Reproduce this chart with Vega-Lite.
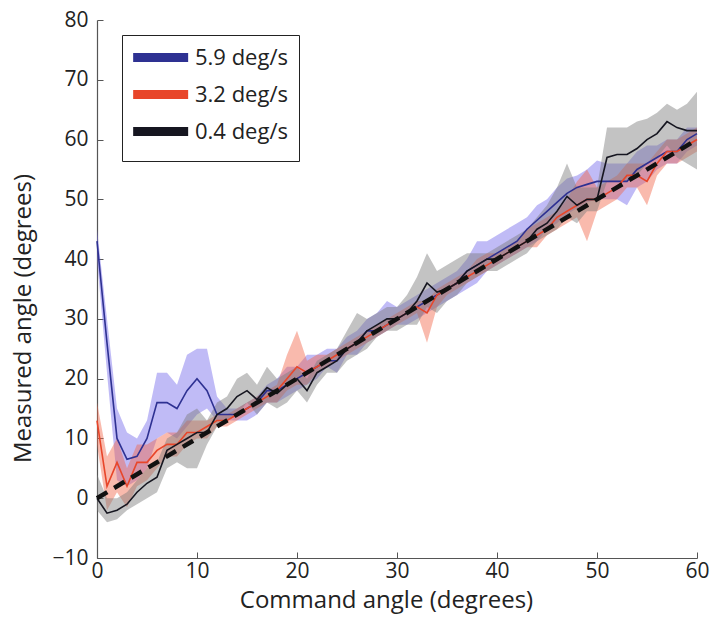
{
  "$schema": "https://vega.github.io/schema/vega-lite/v6.json",
  "width": 600,
  "height": 538,
  "autosize": {"type": "none"},
  "padding": {"left": 97, "top": 20, "right": 13, "bottom": 63},
  "config": {
    "font": "Open Sans",
    "view": {"stroke": null},
    "axis": {
      "grid": false,
      "domainColor": "#555555",
      "domainWidth": 1.2,
      "tickColor": "#555555",
      "tickSize": -6,
      "labelFlush": false,
      "labelFontSize": 21,
      "labelColor": "#222222",
      "titleFontSize": 24,
      "titleFontWeight": "normal",
      "titleColor": "#222222"
    }
  },
  "datasets": {
    "runs": [
      {"series": "5.9 deg/s", "x": 0, "m": 43, "lo": 40, "hi": 45},
      {"series": "5.9 deg/s", "x": 1, "m": 26, "lo": 21, "hi": 30},
      {"series": "5.9 deg/s", "x": 2, "m": 10, "lo": 3, "hi": 15},
      {"series": "5.9 deg/s", "x": 3, "m": 6.5, "lo": 2, "hi": 11},
      {"series": "5.9 deg/s", "x": 4, "m": 7, "lo": 3, "hi": 10},
      {"series": "5.9 deg/s", "x": 5, "m": 10, "lo": 5, "hi": 13},
      {"series": "5.9 deg/s", "x": 6, "m": 16, "lo": 10, "hi": 21},
      {"series": "5.9 deg/s", "x": 7, "m": 16, "lo": 11, "hi": 21},
      {"series": "5.9 deg/s", "x": 8, "m": 15, "lo": 10, "hi": 19},
      {"series": "5.9 deg/s", "x": 9, "m": 18, "lo": 12, "hi": 24},
      {"series": "5.9 deg/s", "x": 10, "m": 20, "lo": 14, "hi": 25},
      {"series": "5.9 deg/s", "x": 11, "m": 18, "lo": 15, "hi": 25},
      {"series": "5.9 deg/s", "x": 12, "m": 14, "lo": 13, "hi": 17},
      {"series": "5.9 deg/s", "x": 13, "m": 14, "lo": 13, "hi": 15},
      {"series": "5.9 deg/s", "x": 14, "m": 14, "lo": 13, "hi": 15},
      {"series": "5.9 deg/s", "x": 15, "m": 15, "lo": 13, "hi": 16},
      {"series": "5.9 deg/s", "x": 16, "m": 16, "lo": 14, "hi": 17},
      {"series": "5.9 deg/s", "x": 17, "m": 18, "lo": 16, "hi": 19},
      {"series": "5.9 deg/s", "x": 18, "m": 18, "lo": 16, "hi": 20},
      {"series": "5.9 deg/s", "x": 19, "m": 19, "lo": 17, "hi": 22},
      {"series": "5.9 deg/s", "x": 20, "m": 20, "lo": 18, "hi": 22},
      {"series": "5.9 deg/s", "x": 21, "m": 21, "lo": 19, "hi": 24},
      {"series": "5.9 deg/s", "x": 22, "m": 22, "lo": 20, "hi": 24},
      {"series": "5.9 deg/s", "x": 23, "m": 23, "lo": 22, "hi": 25},
      {"series": "5.9 deg/s", "x": 24, "m": 23, "lo": 21, "hi": 25},
      {"series": "5.9 deg/s", "x": 25, "m": 25, "lo": 24, "hi": 27},
      {"series": "5.9 deg/s", "x": 26, "m": 26, "lo": 24, "hi": 28},
      {"series": "5.9 deg/s", "x": 27, "m": 28, "lo": 26, "hi": 30},
      {"series": "5.9 deg/s", "x": 28, "m": 28, "lo": 27, "hi": 31},
      {"series": "5.9 deg/s", "x": 29, "m": 29, "lo": 28, "hi": 33},
      {"series": "5.9 deg/s", "x": 30, "m": 30, "lo": 29, "hi": 32},
      {"series": "5.9 deg/s", "x": 31, "m": 31, "lo": 29, "hi": 33},
      {"series": "5.9 deg/s", "x": 32, "m": 32, "lo": 30, "hi": 34},
      {"series": "5.9 deg/s", "x": 33, "m": 33, "lo": 31, "hi": 35},
      {"series": "5.9 deg/s", "x": 34, "m": 34, "lo": 32, "hi": 36},
      {"series": "5.9 deg/s", "x": 35, "m": 35, "lo": 33, "hi": 37},
      {"series": "5.9 deg/s", "x": 36, "m": 36, "lo": 34, "hi": 38},
      {"series": "5.9 deg/s", "x": 37, "m": 38, "lo": 35, "hi": 40},
      {"series": "5.9 deg/s", "x": 38, "m": 39, "lo": 36, "hi": 43},
      {"series": "5.9 deg/s", "x": 39, "m": 40, "lo": 38, "hi": 43},
      {"series": "5.9 deg/s", "x": 40, "m": 41, "lo": 39, "hi": 44},
      {"series": "5.9 deg/s", "x": 41, "m": 42, "lo": 40, "hi": 45},
      {"series": "5.9 deg/s", "x": 42, "m": 43, "lo": 41, "hi": 46},
      {"series": "5.9 deg/s", "x": 43, "m": 45, "lo": 42, "hi": 47},
      {"series": "5.9 deg/s", "x": 44, "m": 46.5, "lo": 43, "hi": 49},
      {"series": "5.9 deg/s", "x": 45, "m": 48, "lo": 45, "hi": 50},
      {"series": "5.9 deg/s", "x": 46, "m": 49.5, "lo": 46, "hi": 52},
      {"series": "5.9 deg/s", "x": 47, "m": 51, "lo": 47.5, "hi": 53.5},
      {"series": "5.9 deg/s", "x": 48, "m": 52, "lo": 48.5, "hi": 54},
      {"series": "5.9 deg/s", "x": 49, "m": 52.5, "lo": 49.5, "hi": 55},
      {"series": "5.9 deg/s", "x": 50, "m": 53, "lo": 50, "hi": 56.5},
      {"series": "5.9 deg/s", "x": 51, "m": 53, "lo": 50, "hi": 56},
      {"series": "5.9 deg/s", "x": 52, "m": 53, "lo": 50, "hi": 56},
      {"series": "5.9 deg/s", "x": 53, "m": 53, "lo": 49, "hi": 56},
      {"series": "5.9 deg/s", "x": 54, "m": 55, "lo": 52, "hi": 58},
      {"series": "5.9 deg/s", "x": 55, "m": 56, "lo": 53, "hi": 59},
      {"series": "5.9 deg/s", "x": 56, "m": 57, "lo": 55, "hi": 59},
      {"series": "5.9 deg/s", "x": 57, "m": 58, "lo": 56, "hi": 60},
      {"series": "5.9 deg/s", "x": 58, "m": 58, "lo": 56, "hi": 60},
      {"series": "5.9 deg/s", "x": 59, "m": 60, "lo": 58, "hi": 62},
      {"series": "5.9 deg/s", "x": 60, "m": 61, "lo": 59, "hi": 62},

      {"series": "3.2 deg/s", "x": 0, "m": 13, "lo": 9, "hi": 16},
      {"series": "3.2 deg/s", "x": 1, "m": 2, "lo": -2, "hi": 7},
      {"series": "3.2 deg/s", "x": 2, "m": 6, "lo": 1, "hi": 10},
      {"series": "3.2 deg/s", "x": 3, "m": 2, "lo": -1.5, "hi": 5},
      {"series": "3.2 deg/s", "x": 4, "m": 6, "lo": 2, "hi": 9},
      {"series": "3.2 deg/s", "x": 5, "m": 6, "lo": 3, "hi": 9},
      {"series": "3.2 deg/s", "x": 6, "m": 8, "lo": 5, "hi": 10},
      {"series": "3.2 deg/s", "x": 7, "m": 9, "lo": 7, "hi": 11},
      {"series": "3.2 deg/s", "x": 8, "m": 9, "lo": 7, "hi": 11},
      {"series": "3.2 deg/s", "x": 9, "m": 11, "lo": 9, "hi": 13},
      {"series": "3.2 deg/s", "x": 10, "m": 11, "lo": 10, "hi": 13},
      {"series": "3.2 deg/s", "x": 11, "m": 12, "lo": 10, "hi": 13},
      {"series": "3.2 deg/s", "x": 12, "m": 13, "lo": 12, "hi": 14},
      {"series": "3.2 deg/s", "x": 13, "m": 13, "lo": 12, "hi": 14},
      {"series": "3.2 deg/s", "x": 14, "m": 14, "lo": 13, "hi": 15},
      {"series": "3.2 deg/s", "x": 15, "m": 15, "lo": 14, "hi": 16},
      {"series": "3.2 deg/s", "x": 16, "m": 16, "lo": 15, "hi": 17},
      {"series": "3.2 deg/s", "x": 17, "m": 17, "lo": 16, "hi": 18},
      {"series": "3.2 deg/s", "x": 18, "m": 18, "lo": 16, "hi": 19},
      {"series": "3.2 deg/s", "x": 19, "m": 20, "lo": 18, "hi": 24},
      {"series": "3.2 deg/s", "x": 20, "m": 22, "lo": 19, "hi": 28},
      {"series": "3.2 deg/s", "x": 21, "m": 21, "lo": 19, "hi": 23},
      {"series": "3.2 deg/s", "x": 22, "m": 22, "lo": 21, "hi": 24},
      {"series": "3.2 deg/s", "x": 23, "m": 23, "lo": 22, "hi": 24},
      {"series": "3.2 deg/s", "x": 24, "m": 24, "lo": 23, "hi": 25},
      {"series": "3.2 deg/s", "x": 25, "m": 25, "lo": 24, "hi": 26},
      {"series": "3.2 deg/s", "x": 26, "m": 26, "lo": 25, "hi": 27},
      {"series": "3.2 deg/s", "x": 27, "m": 27, "lo": 26, "hi": 28},
      {"series": "3.2 deg/s", "x": 28, "m": 28, "lo": 27, "hi": 29},
      {"series": "3.2 deg/s", "x": 29, "m": 29, "lo": 28, "hi": 30},
      {"series": "3.2 deg/s", "x": 30, "m": 30, "lo": 29, "hi": 31},
      {"series": "3.2 deg/s", "x": 31, "m": 31, "lo": 30, "hi": 32},
      {"series": "3.2 deg/s", "x": 32, "m": 32, "lo": 31, "hi": 33},
      {"series": "3.2 deg/s", "x": 33, "m": 31, "lo": 26, "hi": 33},
      {"series": "3.2 deg/s", "x": 34, "m": 34, "lo": 32, "hi": 35},
      {"series": "3.2 deg/s", "x": 35, "m": 35, "lo": 34, "hi": 36},
      {"series": "3.2 deg/s", "x": 36, "m": 36, "lo": 35, "hi": 37},
      {"series": "3.2 deg/s", "x": 37, "m": 37, "lo": 36, "hi": 38},
      {"series": "3.2 deg/s", "x": 38, "m": 38, "lo": 37, "hi": 40},
      {"series": "3.2 deg/s", "x": 39, "m": 39, "lo": 38, "hi": 41},
      {"series": "3.2 deg/s", "x": 40, "m": 40, "lo": 39, "hi": 41},
      {"series": "3.2 deg/s", "x": 41, "m": 41, "lo": 40, "hi": 42},
      {"series": "3.2 deg/s", "x": 42, "m": 42, "lo": 41, "hi": 43},
      {"series": "3.2 deg/s", "x": 43, "m": 43, "lo": 42, "hi": 45},
      {"series": "3.2 deg/s", "x": 44, "m": 44, "lo": 42, "hi": 46},
      {"series": "3.2 deg/s", "x": 45, "m": 45, "lo": 44, "hi": 47},
      {"series": "3.2 deg/s", "x": 46, "m": 47, "lo": 45, "hi": 48},
      {"series": "3.2 deg/s", "x": 47, "m": 48, "lo": 46, "hi": 50},
      {"series": "3.2 deg/s", "x": 48, "m": 49, "lo": 47, "hi": 53},
      {"series": "3.2 deg/s", "x": 49, "m": 50, "lo": 43, "hi": 55},
      {"series": "3.2 deg/s", "x": 50, "m": 50, "lo": 48, "hi": 52},
      {"series": "3.2 deg/s", "x": 51, "m": 51, "lo": 49, "hi": 53},
      {"series": "3.2 deg/s", "x": 52, "m": 52, "lo": 50, "hi": 54},
      {"series": "3.2 deg/s", "x": 53, "m": 54, "lo": 52, "hi": 56},
      {"series": "3.2 deg/s", "x": 54, "m": 54, "lo": 52, "hi": 56},
      {"series": "3.2 deg/s", "x": 55, "m": 53, "lo": 49, "hi": 56},
      {"series": "3.2 deg/s", "x": 56, "m": 56, "lo": 54, "hi": 58},
      {"series": "3.2 deg/s", "x": 57, "m": 58, "lo": 56, "hi": 60},
      {"series": "3.2 deg/s", "x": 58, "m": 58, "lo": 56, "hi": 60},
      {"series": "3.2 deg/s", "x": 59, "m": 59, "lo": 57, "hi": 61},
      {"series": "3.2 deg/s", "x": 60, "m": 60, "lo": 58, "hi": 62},

      {"series": "0.4 deg/s", "x": 0, "m": 0, "lo": -2, "hi": 4},
      {"series": "0.4 deg/s", "x": 1, "m": -2.5, "lo": -4, "hi": 0},
      {"series": "0.4 deg/s", "x": 2, "m": -2, "lo": -3.5, "hi": 0},
      {"series": "0.4 deg/s", "x": 3, "m": -1, "lo": -2, "hi": 1},
      {"series": "0.4 deg/s", "x": 4, "m": 1, "lo": -1, "hi": 3},
      {"series": "0.4 deg/s", "x": 5, "m": 2.5, "lo": 0, "hi": 5},
      {"series": "0.4 deg/s", "x": 6, "m": 3.5, "lo": 1, "hi": 6},
      {"series": "0.4 deg/s", "x": 7, "m": 8, "lo": 5, "hi": 10},
      {"series": "0.4 deg/s", "x": 8, "m": 9, "lo": 6, "hi": 11},
      {"series": "0.4 deg/s", "x": 9, "m": 10, "lo": 5, "hi": 14},
      {"series": "0.4 deg/s", "x": 10, "m": 11, "lo": 5, "hi": 15},
      {"series": "0.4 deg/s", "x": 11, "m": 11, "lo": 9, "hi": 13},
      {"series": "0.4 deg/s", "x": 12, "m": 14, "lo": 12, "hi": 16},
      {"series": "0.4 deg/s", "x": 13, "m": 15, "lo": 13, "hi": 17},
      {"series": "0.4 deg/s", "x": 14, "m": 17, "lo": 14, "hi": 20},
      {"series": "0.4 deg/s", "x": 15, "m": 18, "lo": 16, "hi": 21},
      {"series": "0.4 deg/s", "x": 16, "m": 16.5, "lo": 14, "hi": 19},
      {"series": "0.4 deg/s", "x": 17, "m": 18.5, "lo": 16, "hi": 22},
      {"series": "0.4 deg/s", "x": 18, "m": 17.5, "lo": 15, "hi": 20},
      {"series": "0.4 deg/s", "x": 19, "m": 19, "lo": 16, "hi": 21},
      {"series": "0.4 deg/s", "x": 20, "m": 20, "lo": 18, "hi": 22},
      {"series": "0.4 deg/s", "x": 21, "m": 18, "lo": 16, "hi": 20},
      {"series": "0.4 deg/s", "x": 22, "m": 21, "lo": 19, "hi": 23},
      {"series": "0.4 deg/s", "x": 23, "m": 22, "lo": 21, "hi": 24},
      {"series": "0.4 deg/s", "x": 24, "m": 23, "lo": 21, "hi": 25},
      {"series": "0.4 deg/s", "x": 25, "m": 25, "lo": 23, "hi": 28},
      {"series": "0.4 deg/s", "x": 26, "m": 26, "lo": 24, "hi": 31},
      {"series": "0.4 deg/s", "x": 27, "m": 28, "lo": 25, "hi": 30},
      {"series": "0.4 deg/s", "x": 28, "m": 29, "lo": 27, "hi": 31},
      {"series": "0.4 deg/s", "x": 29, "m": 30, "lo": 28, "hi": 32},
      {"series": "0.4 deg/s", "x": 30, "m": 30, "lo": 28, "hi": 32},
      {"series": "0.4 deg/s", "x": 31, "m": 31, "lo": 29, "hi": 34},
      {"series": "0.4 deg/s", "x": 32, "m": 33, "lo": 29, "hi": 37},
      {"series": "0.4 deg/s", "x": 33, "m": 36, "lo": 32, "hi": 41},
      {"series": "0.4 deg/s", "x": 34, "m": 34.5, "lo": 31, "hi": 38},
      {"series": "0.4 deg/s", "x": 35, "m": 35, "lo": 33, "hi": 39},
      {"series": "0.4 deg/s", "x": 36, "m": 36, "lo": 34, "hi": 40},
      {"series": "0.4 deg/s", "x": 37, "m": 38, "lo": 36, "hi": 41},
      {"series": "0.4 deg/s", "x": 38, "m": 39, "lo": 37, "hi": 41},
      {"series": "0.4 deg/s", "x": 39, "m": 40, "lo": 38, "hi": 41},
      {"series": "0.4 deg/s", "x": 40, "m": 40, "lo": 38, "hi": 42},
      {"series": "0.4 deg/s", "x": 41, "m": 41, "lo": 39, "hi": 43},
      {"series": "0.4 deg/s", "x": 42, "m": 42, "lo": 40, "hi": 44},
      {"series": "0.4 deg/s", "x": 43, "m": 43, "lo": 41, "hi": 45},
      {"series": "0.4 deg/s", "x": 44, "m": 45, "lo": 43, "hi": 47},
      {"series": "0.4 deg/s", "x": 45, "m": 46, "lo": 44, "hi": 49},
      {"series": "0.4 deg/s", "x": 46, "m": 48, "lo": 45, "hi": 52},
      {"series": "0.4 deg/s", "x": 47, "m": 50.5, "lo": 47, "hi": 56},
      {"series": "0.4 deg/s", "x": 48, "m": 49, "lo": 46, "hi": 52},
      {"series": "0.4 deg/s", "x": 49, "m": 50, "lo": 48, "hi": 52},
      {"series": "0.4 deg/s", "x": 50, "m": 50, "lo": 48, "hi": 52},
      {"series": "0.4 deg/s", "x": 51, "m": 57, "lo": 53, "hi": 62},
      {"series": "0.4 deg/s", "x": 52, "m": 57.5, "lo": 53, "hi": 62},
      {"series": "0.4 deg/s", "x": 53, "m": 57.5, "lo": 53, "hi": 62},
      {"series": "0.4 deg/s", "x": 54, "m": 58.5, "lo": 54, "hi": 63},
      {"series": "0.4 deg/s", "x": 55, "m": 60, "lo": 56, "hi": 63.5},
      {"series": "0.4 deg/s", "x": 56, "m": 61, "lo": 57, "hi": 64.5},
      {"series": "0.4 deg/s", "x": 57, "m": 63, "lo": 59, "hi": 66},
      {"series": "0.4 deg/s", "x": 58, "m": 62, "lo": 57, "hi": 65},
      {"series": "0.4 deg/s", "x": 59, "m": 61.5, "lo": 56, "hi": 66},
      {"series": "0.4 deg/s", "x": 60, "m": 61.5, "lo": 55, "hi": 68}
    ],
    "ideal": [
      {"x": 0, "y": 0},
      {"x": 60, "y": 60}
    ]
  },
  "layer": [
    {
      "data": {"name": "runs"},
      "transform": [{"filter": "datum.series === '5.9 deg/s'"}],
      "mark": {"type": "area", "color": "#7468ec", "fillOpacity": 0.45},
      "encoding": {
        "x": {
          "field": "x",
          "type": "quantitative",
          "scale": {"domain": [0, 60], "nice": false, "zero": false},
          "axis": {
            "values": [0, 10, 20, 30, 40, 50, 60],
            "title": "Command angle (degrees)",
            "labelPadding": 8,
            "titlePadding": 7,
            "titleX": 289
          }
        },
        "y": {
          "field": "lo",
          "type": "quantitative",
          "scale": {"domain": [-10, 80], "nice": false, "zero": false},
          "axis": {
            "values": [-10, 0, 10, 20, 30, 40, 50, 60, 70, 80],
            "title": "Measured angle (degrees)",
            "labelPadding": 15,
            "titlePadding": 16,
            "titleY": 298
          }
        },
        "y2": {"field": "hi"}
      }
    },
    {
      "data": {"name": "runs"},
      "transform": [{"filter": "datum.series === '3.2 deg/s'"}],
      "mark": {"type": "area", "color": "#f2654a", "fillOpacity": 0.45},
      "encoding": {
        "x": {"field": "x", "type": "quantitative"},
        "y": {"field": "lo", "type": "quantitative"},
        "y2": {"field": "hi"}
      }
    },
    {
      "data": {"name": "runs"},
      "transform": [{"filter": "datum.series === '0.4 deg/s'"}],
      "mark": {"type": "area", "color": "#7a7a7a", "fillOpacity": 0.45},
      "encoding": {
        "x": {"field": "x", "type": "quantitative"},
        "y": {"field": "lo", "type": "quantitative"},
        "y2": {"field": "hi"}
      }
    },
    {
      "data": {"name": "runs"},
      "mark": {"type": "line", "strokeWidth": 1.6},
      "encoding": {
        "x": {"field": "x", "type": "quantitative"},
        "y": {"field": "m", "type": "quantitative"},
        "color": {
          "field": "series",
          "type": "nominal",
          "sort": null,
          "scale": {
            "domain": ["5.9 deg/s", "3.2 deg/s", "0.4 deg/s"],
            "range": ["#2e3192", "#e8462a", "#161620"]
          },
          "legend": {
            "title": null,
            "orient": "none",
            "legendX": 25,
            "legendY": 15,
            "symbolType": "M-1.65,0H6.35",
            "symbolStrokeWidth": 9,
            "symbolSize": 189,
            "labelFontSize": 22,
            "labelColor": "#222222",
            "labelOffset": 39,
            "rowPadding": 0,
            "padding": 11,
            "strokeColor": "#222222",
            "fillColor": "white"
          }
        }
      }
    },
    {
      "data": {"name": "ideal"},
      "mark": {"type": "line", "color": "#111111", "strokeWidth": 4.5, "strokeDash": [12, 8]},
      "encoding": {
        "x": {"field": "x", "type": "quantitative"},
        "y": {"field": "y", "type": "quantitative"}
      }
    }
  ]
}
